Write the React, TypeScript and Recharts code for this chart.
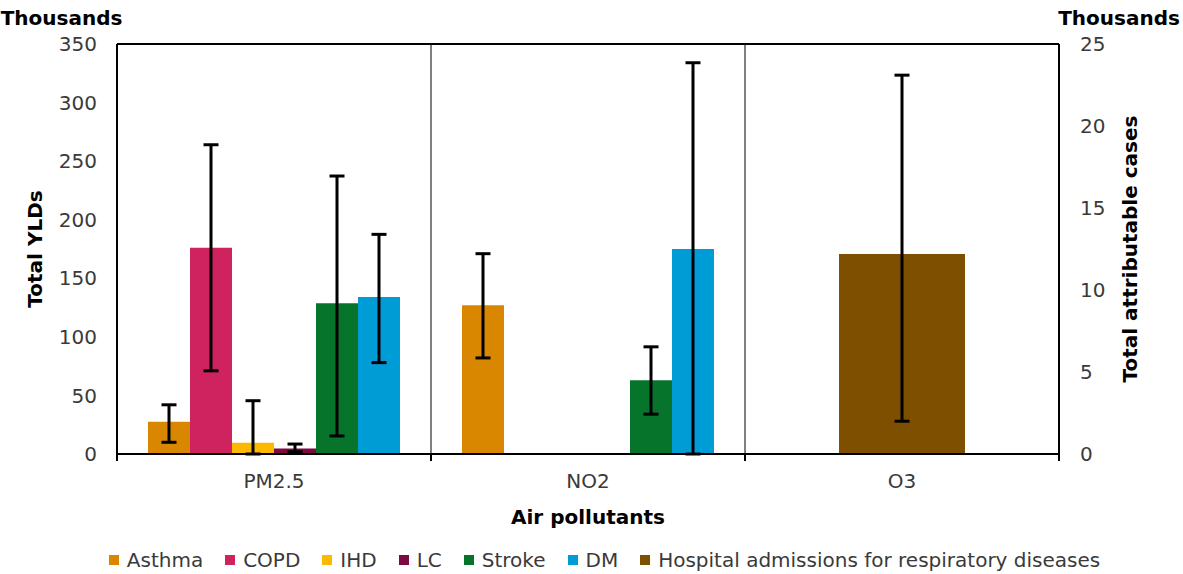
import React from "react"
import {
  ComposedChart, Bar, XAxis, YAxis, CartesianGrid, ErrorBar,
  ReferenceLine, Legend, Label
} from "recharts"

// values in thousands
const categories = ["PM2.5", "NO2", "O3"]

const asthma = [27.5, 127, null]
const asthmaLow = [10, 82, null]
const asthmaHigh = [42, 171, null]

const copd = [176, null, null]
const copdLow = [71, null, null]
const copdHigh = [264, null, null]

const ihd = [9.5, null, null]
const ihdLow = [0, null, null]
const ihdHigh = [45.5, null, null]

const lc = [4.6, null, null]
const lcLow = [2, null, null]
const lcHigh = [8.5, null, null]

const stroke = [128.6, 63, null]
const strokeLow = [15.4, 34, null]
const strokeHigh = [237.3, 91.5, null]

const dm = [134, 175, null]
const dmLow = [78, 0, null]
const dmHigh = [187.5, 334, null]

// right axis
const hospital = [null, null, 12.2]
const hospitalLow = [null, null, 2]
const hospitalHigh = [null, null, 23.1]

const leftTicks = [0, 50, 100, 150, 200, 250, 300, 350]
const rightTicks = [0, 5, 10, 15, 20, 25]

const series = [
  { key: "asthma", name: "Asthma", color: "#d98600", vals: asthma, low: asthmaLow, high: asthmaHigh },
  { key: "copd", name: "COPD", color: "#cf2360", vals: copd, low: copdLow, high: copdHigh },
  { key: "ihd", name: "IHD", color: "#fcb900", vals: ihd, low: ihdLow, high: ihdHigh },
  { key: "lc", name: "LC", color: "#7a0a3f", vals: lc, low: lcLow, high: lcHigh },
  { key: "stroke", name: "Stroke", color: "#06752b", vals: stroke, low: strokeLow, high: strokeHigh },
  { key: "dm", name: "DM", color: "#009cd6", vals: dm, low: dmLow, high: dmHigh },
]
const hospitalSeries = {
  key: "hospital", name: "Hospital admissions for respiratory diseases",
  color: "#7f4f00", vals: hospital, low: hospitalLow, high: hospitalHigh,
}

const allSeries = [...series, hospitalSeries]

const data = categories.map((name, i) => {
  const row: any = { name }
  allSeries.forEach(s => {
    const v = s.vals[i]
    row[s.key] = v
    row[s.key + "Err"] = v == null ? undefined : [v - (s.low[i] as number), (s.high[i] as number) - v]
  })
  return row
})

const W = 1183
const H = 574
const LEFT_W = 117
const RIGHT_W = 124
const BAND = (W - LEFT_W - RIGHT_W) / categories.length
const FONT = "'DejaVu Sans', Verdana, sans-serif"

const CategoryTick = ({ x, y, payload }: any) => (
  <g>
    <line x1={x - BAND / 2} x2={x - BAND / 2} y1={y - 20} y2={y - 13} stroke="#000" strokeWidth={2} />
    <line x1={x + BAND / 2} x2={x + BAND / 2} y1={y - 20} y2={y - 13} stroke="#000" strokeWidth={2} />
    <text x={x} y={y} dy="0.71em" textAnchor="middle" fill="#3a3a3a" fontSize={20} fontFamily={FONT}>
      {payload.value}
    </text>
  </g>
)

const LegendRow = () => (
  <div style={{
    height: 40, boxSizing: "border-box", paddingTop: 11, paddingLeft: 26,
    display: "flex", justifyContent: "center", alignItems: "center",
    fontFamily: FONT, fontSize: 20, color: "#3a3a3a", lineHeight: "20px"
  }}>
    {allSeries.map((s, i) => (
      <span key={s.key} style={{ display: "flex", alignItems: "center", marginRight: i < allSeries.length - 1 ? 22 : 0 }}>
        <span style={{ width: 10, height: 10, background: s.color, marginRight: 8 }} />
        {s.name}
      </span>
    ))}
  </div>
)

export default function App() {
  return (
    <div style={{ width: W, height: H }}>
      <style>{"body{margin:0}"}</style>
      <ComposedChart
        width={W} height={H} data={data}
        margin={{ top: 44, right: 0, left: 0, bottom: 0 }}
        barGap={0}
        style={{ fontFamily: FONT }}
      >
        <CartesianGrid
          xAxisId="a" yAxisId="left"
          horizontal={false} stroke="#000" strokeWidth={1}
          verticalCoordinatesGenerator={({ offset }: any) =>
            categories.slice(1).map((_, i) => offset.left + (i + 1) * offset.width / categories.length)}
        />
        <XAxis
          xAxisId="a" dataKey="name" height={80}
          axisLine={{ stroke: "#000", strokeWidth: 2 }} tickLine={false}
          tickSize={0} tickMargin={20} tick={<CategoryTick />} interval={0}
        >
          <Label value="Air pollutants" position="insideBottom" offset={10}
            style={{ fontSize: 20, fontWeight: "bold", fill: "#000", fontFamily: FONT }} />
        </XAxis>
        <XAxis xAxisId="b" dataKey="name" hide />
        <YAxis
          yAxisId="left" width={LEFT_W} domain={[0, 350]} ticks={leftTicks}
          axisLine={{ stroke: "#000", strokeWidth: 2 }} tickLine={false}
          tickSize={0} tickMargin={20}
          tick={{ fontSize: 20, fill: "#3a3a3a", fontFamily: FONT }}
        >
          <Label value="Total YLDs" angle={-90} position="insideLeft" offset={35}
            style={{ textAnchor: "middle", fontSize: 20, fontWeight: "bold", fill: "#000", fontFamily: FONT }} />
          <Label value="Thousands" position="top" offset={19} dx={3}
            style={{ fontSize: 20, fontWeight: "bold", fill: "#000", fontFamily: FONT }} />
        </YAxis>
        <YAxis
          yAxisId="right" orientation="right" width={RIGHT_W} domain={[0, 25]} ticks={rightTicks}
          axisLine={{ stroke: "#000", strokeWidth: 2 }} tickLine={false}
          tickSize={0} tickMargin={21}
          tick={{ fontSize: 20, fill: "#3a3a3a", fontFamily: FONT, textAnchor: "start" }}
        >
          <Label value="Total attributable cases" angle={-90} position="insideRight" offset={53}
            style={{ textAnchor: "middle", fontSize: 20, fontWeight: "bold", fill: "#000", fontFamily: FONT }} />
          <Label value="Thousands" position="top" offset={19} dx={-2}
            style={{ fontSize: 20, fontWeight: "bold", fill: "#000", fontFamily: FONT }} />
        </YAxis>
        <ReferenceLine xAxisId="a" yAxisId="left" y={350} stroke="#000" strokeWidth={2} />
        {series.map(s => (
          <Bar key={s.key} xAxisId="a" yAxisId="left" dataKey={s.key} name={s.name}
            fill={s.color} barSize={42} isAnimationActive={false}>
            <ErrorBar dataKey={s.key + "Err"} direction="y" width={7.5} stroke="#000" strokeWidth={3} />
          </Bar>
        ))}
        <Bar xAxisId="b" yAxisId="right" dataKey={hospitalSeries.key} name={hospitalSeries.name}
          fill={hospitalSeries.color} barSize={126} isAnimationActive={false}>
          <ErrorBar dataKey={hospitalSeries.key + "Err"} direction="y" width={7.5} stroke="#000" strokeWidth={3} />
        </Bar>
        <Legend verticalAlign="bottom" content={() => <LegendRow />} />
      </ComposedChart>
    </div>
  )
}
